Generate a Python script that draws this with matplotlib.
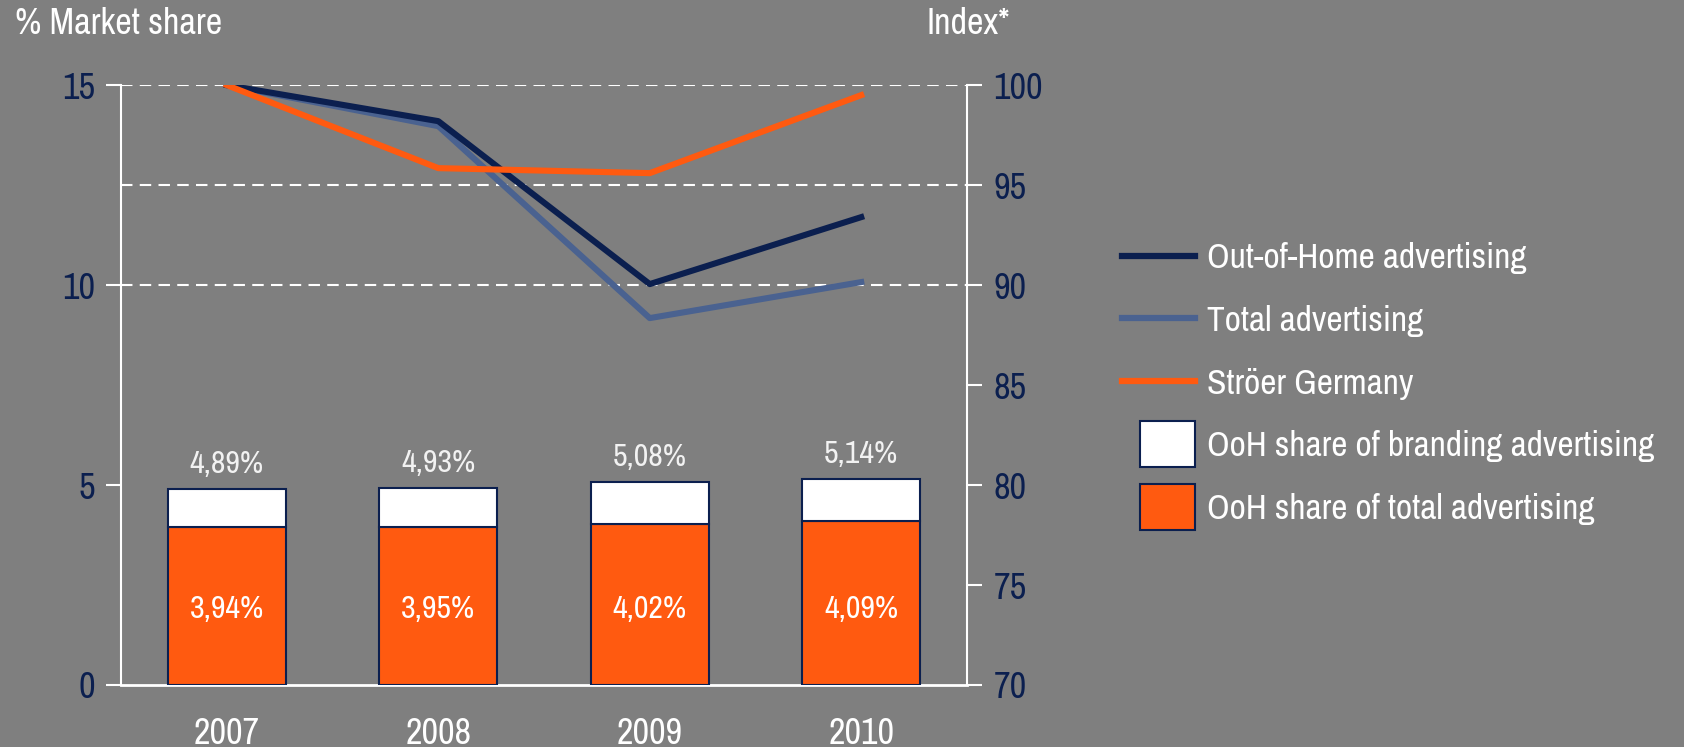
import matplotlib
matplotlib.use("Agg")
import matplotlib.pyplot as plt
from matplotlib.lines import Line2D
from matplotlib.patches import Patch, Rectangle
from matplotlib.legend_handler import HandlerPatch

# data
years = ["2007", "2008", "2009", "2010"]
ooh_total_share = [3.94, 3.95, 4.02, 4.09]      # orange part of the bars
ooh_branding_share = [4.89, 4.93, 5.08, 5.14]   # full bar height
idx_ooh = [100.0, 98.2, 90.05, 93.4]
idx_total = [100.0, 97.95, 88.35, 90.15]
idx_stroer = [100.0, 95.85, 95.6, 99.5]

BG = "#7f7f7f"
NAVY = "#0b1f4f"
SLATE = "#4a6290"
ORANGE = "#ff5a10"

plt.rcParams["font.family"] = ["Archivo Narrow", "Roboto Condensed", "DejaVu Sans"]

fig = plt.figure(figsize=(16.84, 7.47), dpi=100, facecolor=BG)
ax = fig.add_axes([0.0719, 0.083, 0.5023, 0.803])
ax.set_facecolor(BG)
ax2 = ax.twinx()

x = range(len(years))
branding_part = [b - t for b, t in zip(ooh_branding_share, ooh_total_share)]
ax.bar(x, ooh_total_share, width=0.56, color=ORANGE, edgecolor=NAVY, linewidth=1.5, zorder=3)
ax.bar(x, branding_part, bottom=ooh_total_share, width=0.56, color="white",
       edgecolor=NAVY, linewidth=1.5, zorder=3)

for i in x:
    ax.text(i, ooh_branding_share[i] + 0.28, f"{ooh_branding_share[i]:.2f}%".replace(".", ","),
            ha="center", va="bottom", color="#f2f2f2", fontsize=23)
    ax.text(i, 1.9, f"{ooh_total_share[i]:.2f}%".replace(".", ","),
            ha="center", va="center", color="white", fontsize=23, zorder=4)

ax.set_xlim(-0.5, 3.5)
ax.set_ylim(0, 15)
ax.set_yticks([0, 5, 10, 15])
ax.set_xticks(list(x))
ax.set_xticklabels(years)

# dashed grid lines (upper part only)
for g in [10, 12.5, 15]:
    ax.axhline(g, color="white", linestyle=(0, (5.5, 3.5)), linewidth=1.5, zorder=1)

ax2.plot(x, idx_ooh, color=NAVY, lw=4.4, zorder=5)
ax2.plot(x, idx_total, color=SLATE, lw=4.4, zorder=4)
ax2.plot(x, idx_stroer, color=ORANGE, lw=4.4, zorder=6)
ax2.set_ylim(70, 100)
ax2.set_yticks(range(70, 101, 5))

for a in (ax, ax2):
    for s in a.spines.values():
        s.set_visible(False)
    a.tick_params(axis="y", colors="white", labelcolor=NAVY, labelsize=26,
                  length=11, width=1.5, direction="out", pad=8)
ax.spines["left"].set_visible(True)
ax.spines["left"].set_color("white")
ax.spines["left"].set_linewidth(1.5)
ax2.spines["right"].set_visible(True)
ax2.spines["right"].set_color("white")
ax2.spines["right"].set_linewidth(1.5)
ax.spines["bottom"].set_visible(True)
ax.spines["bottom"].set_color("white")
ax.spines["bottom"].set_linewidth(2)
ax.tick_params(axis="x", length=0, labelcolor="white", labelsize=26, pad=23)

fig.text(0.009, 0.968, "% Market share", color="white", fontsize=26, va="center", ha="left")
fig.text(0.55, 0.968, "Index*", color="white", fontsize=26, va="center", ha="left")


class SquareHandler(HandlerPatch):
    def create_artists(self, legend, orig_handle, xdescent, ydescent, width, height, fontsize, trans):
        h = height * 1.85
        w = h * 1.2
        p = Rectangle((width - w - xdescent, -ydescent + (height - h) / 2), w, h,
                      facecolor=orig_handle.get_facecolor(), edgecolor=NAVY, lw=1.5, transform=trans)
        return [p]


handles = [
    Line2D([], [], color=NAVY, lw=4.5),
    Line2D([], [], color=SLATE, lw=4.5),
    Line2D([], [], color=ORANGE, lw=4.5),
    Patch(facecolor="white"),
    Patch(facecolor=ORANGE),
]
labels = ["Out-of-Home advertising", "Total advertising", "Ströer Germany",
          "OoH share of branding advertising", "OoH share of total advertising"]
leg = fig.legend(handles, labels, handler_map={Patch: SquareHandler()},
                 loc="upper left", bbox_to_anchor=(0.658, 0.695), frameon=False,
                 fontsize=25.5, labelcolor="white", handlelength=2.05, handletextpad=0.35,
                 labelspacing=0.87, borderaxespad=0)

fig.savefig("out.png", dpi=100, facecolor=BG)
